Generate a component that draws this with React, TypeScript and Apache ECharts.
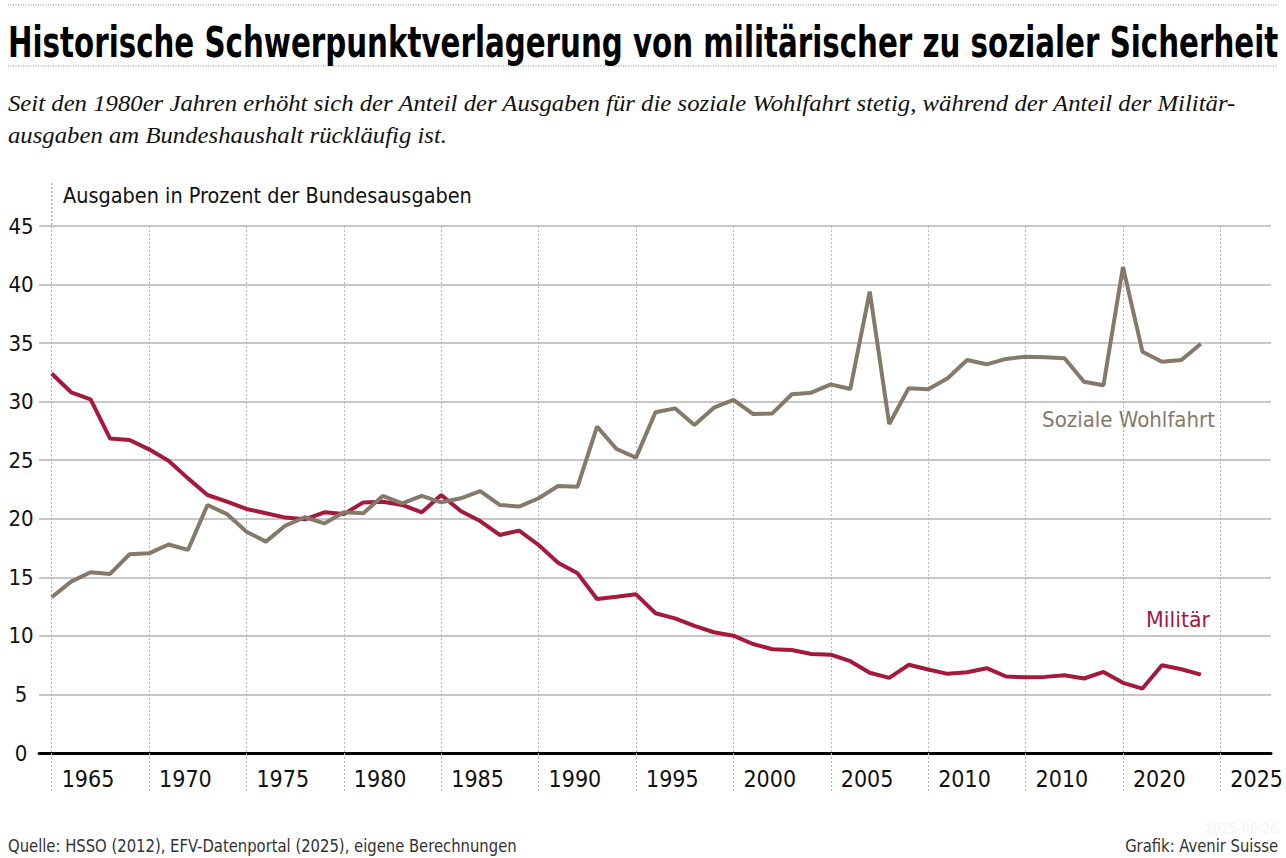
import React, { useEffect, useRef } from "react";
import * as echarts from "echarts";

// ---------- data ----------
const years = [
  1965, 1966, 1967, 1968, 1969, 1970, 1971, 1972, 1973, 1974,
  1975, 1976, 1977, 1978, 1979, 1980, 1981, 1982, 1983, 1984,
  1985, 1986, 1987, 1988, 1989, 1990, 1991, 1992, 1993, 1994,
  1995, 1996, 1997, 1998, 1999, 2000, 2001, 2002, 2003, 2004,
  2005, 2006, 2007, 2008, 2009, 2010, 2011, 2012, 2013, 2014,
  2015, 2016, 2017, 2018, 2019, 2020, 2021, 2022, 2023, 2024,
];

const militaer = [
  32.4, 30.8, 30.2, 26.85, 26.73, 25.93, 24.96, 23.45, 22.03, 21.46,
  20.84, 20.47, 20.1, 19.95, 20.55, 20.4, 21.4, 21.46, 21.18, 20.55,
  22.03, 20.67, 19.81, 18.62, 18.99, 17.76, 16.25, 15.34, 13.15, 13.35,
  13.55, 11.93, 11.5, 10.85, 10.31, 10.02, 9.31, 8.86, 8.8, 8.45,
  8.4, 7.84, 6.85, 6.42, 7.53, 7.13, 6.76, 6.9, 7.24, 6.53,
  6.46, 6.5, 6.64, 6.36, 6.92, 5.99, 5.5, 7.49, 7.15, 6.69,
];

const sozial = [
  13.3, 14.63, 15.43, 15.29, 16.97, 17.05, 17.8, 17.34, 21.18, 20.4,
  18.9, 18.05, 19.42, 20.13, 19.6, 20.55, 20.47, 21.95, 21.32, 21.95,
  21.4, 21.75, 22.37, 21.18, 21.04, 21.75, 22.8, 22.74, 27.87, 25.96,
  25.22, 29.09, 29.43, 28.01, 29.49, 30.15, 28.95, 29.0, 30.63, 30.77,
  31.48, 31.08, 39.4, 28.1, 31.14, 31.06, 32.0, 33.56, 33.19, 33.65,
  33.84, 33.8, 33.7, 31.7, 31.4, 41.5, 34.27, 33.4, 33.56, 34.94,
];

const tickYears = [1965, 1970, 1975, 1980, 1985, 1990, 1995, 2000, 2005, 2010, 2015, 2020, 2025];
const tickLabels = ["1965", "1970", "1975", "1980", "1985", "1990", "1995", "2000", "2005", "2010", "2010", "2020", "2025"];

const TITLE = "Historische Schwerpunktverlagerung von militärischer zu sozialer Sicherheit";
const SUB1 = "Seit den 1980er Jahren erhöht sich der Anteil der Ausgaben für die soziale Wohlfahrt stetig, während der Anteil der Militär-";
const SUB2 = "ausgaben am Bundeshaushalt rückläufig ist.";
const AXIS_TITLE = "Ausgaben in Prozent der Bundesausgaben";
const SOURCE = "Quelle: HSSO (2012), EFV-Datenportal (2025), eigene Berechnungen";
const CREDIT = "Grafik: Avenir Suisse";
const DATE = "2025-06-26";
const LABEL_SOZ = "Soziale Wohlfahrt";
const LABEL_MIL = "Militär";

// ---------- style ----------
const NARROW = '"Liberation Sans Narrow", "DejaVu Sans Condensed", "Roboto Condensed", "Liberation Sans", sans-serif';
const SERIF = '"Liberation Serif", "DejaVu Serif", serif';
const RED = "#a5193c";
const TAUPE = "#857a6a";
const GRID = "#b4b4b4";

const GRID_LEFT = 39;
const GRID_RIGHT = 6;
const GRID_TOP = 226;
const GRID_BOTTOM = 105;
const X_MIN = 1964.35;
const X_MAX = 2027.6;

export default function App() {
  const ref = useRef<HTMLDivElement>(null);

  useEffect(() => {
    const el = ref.current!;
    const chart = echarts.init(el, null, { renderer: "svg" });
    const W = el.clientWidth;

    const ctx = document.createElement("canvas").getContext("2d")!;
    const fit = (text: string, font: string, target: number) => {
      ctx.font = font;
      const w = ctx.measureText(text).width;
      return w > 0 ? target / w : 1;
    };

    const titleFont = `bold 42px ${NARROW}`;
    const subFont = `italic 23px ${SERIF}`;
    const axFont = `21px ${NARROW}`;
    const footFont = `17px ${NARROW}`;
    const labFont = `22px ${NARROW}`;

    const sTitle = fit(TITLE, titleFont, 1270);
    const sSub = fit(SUB1, subFont, 1230);
    const sAx = fit(AXIS_TITLE, axFont, 409);
    const sSrc = fit(SOURCE, footFont, 509);
    const sCred = fit(CREDIT, footFont, 153);
    const sSoz = fit(LABEL_SOZ, labFont, 173);
    const sMil = fit(LABEL_MIL, labFont, 64);

    const plotW = W - GRID_LEFT - GRID_RIGHT;
    const x1965 = GRID_LEFT + ((tickYears[0] - X_MIN) / (X_MAX - X_MIN)) * plotW;

    const txt = (
      id: string,
      text: string,
      x: number,
      y: number,
      scaleX: number,
      opts: any
    ) => ({
      id,
      type: "text",
      x,
      y,
      scaleX,
      silent: true,
      style: {
        text,
        fill: opts.fill || "#111",
        fontSize: opts.fontSize,
        fontFamily: opts.fontFamily,
        fontWeight: opts.fontWeight || "normal",
        fontStyle: opts.fontStyle || "normal",
        textAlign: opts.align || "left",
        textVerticalAlign: "middle",
        align: opts.align || "left",
        verticalAlign: "middle",
      },
    });

    const option: any = {
      animation: false,
      backgroundColor: "#ffffff",
      grid: { left: GRID_LEFT, right: GRID_RIGHT, top: GRID_TOP, bottom: GRID_BOTTOM, containLabel: false },
      xAxis: {
        type: "value",
        min: X_MIN,
        max: X_MAX,
        axisLine: { show: true, onZero: true, lineStyle: { color: "#000", width: 3 } },
        axisTick: {
          show: true,
          customValues: tickYears,
          length: 40,
          inside: false,
          lineStyle: { color: GRID, type: [2, 2], width: 1 },
        },
        splitLine: { show: true, lineStyle: { color: GRID, type: [2, 2], width: 1 } },
        axisLabel: {
          customValues: tickYears,
          formatter: (v: number) => {
            const i = tickYears.indexOf(Math.round(v));
            return i >= 0 ? tickLabels[i] : "";
          },
          align: "left",
          padding: [0, 0, 0, 10],
          margin: 14,
          fontSize: 23,
          fontFamily: NARROW,
          color: "#111",
        },
        z: 3,
      },
      yAxis: {
        type: "value",
        min: 0,
        max: 45,
        interval: 5,
        axisLine: { show: false },
        axisTick: { show: false },
        splitLine: { show: true, lineStyle: { color: GRID, width: 1.5 } },
        axisLabel: {
          align: "center",
          margin: 18,
          fontSize: 22,
          fontFamily: NARROW,
          color: "#111",
        },
      },
      series: [
        {
          name: LABEL_MIL,
          type: "line",
          data: years.map((y, i) => [y, militaer[i]]),
          showSymbol: false,
          symbol: "none",
          lineStyle: { color: RED, width: 4 },
          itemStyle: { color: RED },
          z: 4,
        },
        {
          name: LABEL_SOZ,
          type: "line",
          data: years.map((y, i) => [y, sozial[i]]),
          showSymbol: false,
          symbol: "none",
          lineStyle: { color: TAUPE, width: 4 },
          itemStyle: { color: TAUPE },
          z: 5,
        },
      ],
      graphic: {
        elements: [
          {
            id: "sepTop",
            type: "line",
            silent: true,
            shape: { x1: 8, y1: 5, x2: 1278, y2: 5 },
            style: { stroke: "#8a8a8a", lineWidth: 1, lineDash: [1, 1.5] },
          },
          {
            id: "sepBottom",
            type: "line",
            silent: true,
            shape: { x1: 8, y1: 66, x2: 1278, y2: 66 },
            style: { stroke: "#8a8a8a", lineWidth: 1, lineDash: [1, 1.5] },
          },
          {
            id: "firstTickExt",
            type: "line",
            silent: true,
            shape: { x1: x1965, y1: 183, x2: x1965, y2: GRID_TOP },
            style: { stroke: "#999", lineWidth: 1, lineDash: [2, 2] },
          },
          txt("title", TITLE, 8, 42, sTitle, { fontSize: 42, fontFamily: NARROW, fontWeight: "bold", fill: "#000" }),
          txt("sub1", SUB1, 8, 103, sSub, { fontSize: 23, fontFamily: SERIF, fontStyle: "italic", fill: "#111" }),
          txt("sub2", SUB2, 8, 135, sSub, { fontSize: 23, fontFamily: SERIF, fontStyle: "italic", fill: "#111" }),
          txt("axTitle", AXIS_TITLE, 63, 196, sAx, { fontSize: 21, fontFamily: NARROW, fill: "#111" }),
          txt("labSoz", LABEL_SOZ, 1215, 420, sSoz, { fontSize: 22, fontFamily: NARROW, fill: TAUPE, align: "right" }),
          txt("labMil", LABEL_MIL, 1210, 619, sMil, { fontSize: 22, fontFamily: NARROW, fill: RED, align: "right" }),
          txt("source", SOURCE, 8, 846, sSrc, { fontSize: 17, fontFamily: NARROW, fill: "#333" }),
          txt("credit", CREDIT, 1278, 846, sCred, { fontSize: 17, fontFamily: NARROW, fill: "#333", align: "right" }),
          txt("date", DATE, 1278, 828, 1, { fontSize: 14, fontFamily: NARROW, fill: "#f3f3f3", align: "right" }),
        ],
      },
    };

    chart.setOption(option);
    const onResize = () => chart.resize();
    window.addEventListener("resize", onResize);
    return () => {
      window.removeEventListener("resize", onResize);
      chart.dispose();
    };
  }, []);

  return (
    <div
      ref={ref}
      style={{ position: "fixed", left: 0, top: 0, width: 1286, height: 858, background: "#fff" }}
    />
  );
}
